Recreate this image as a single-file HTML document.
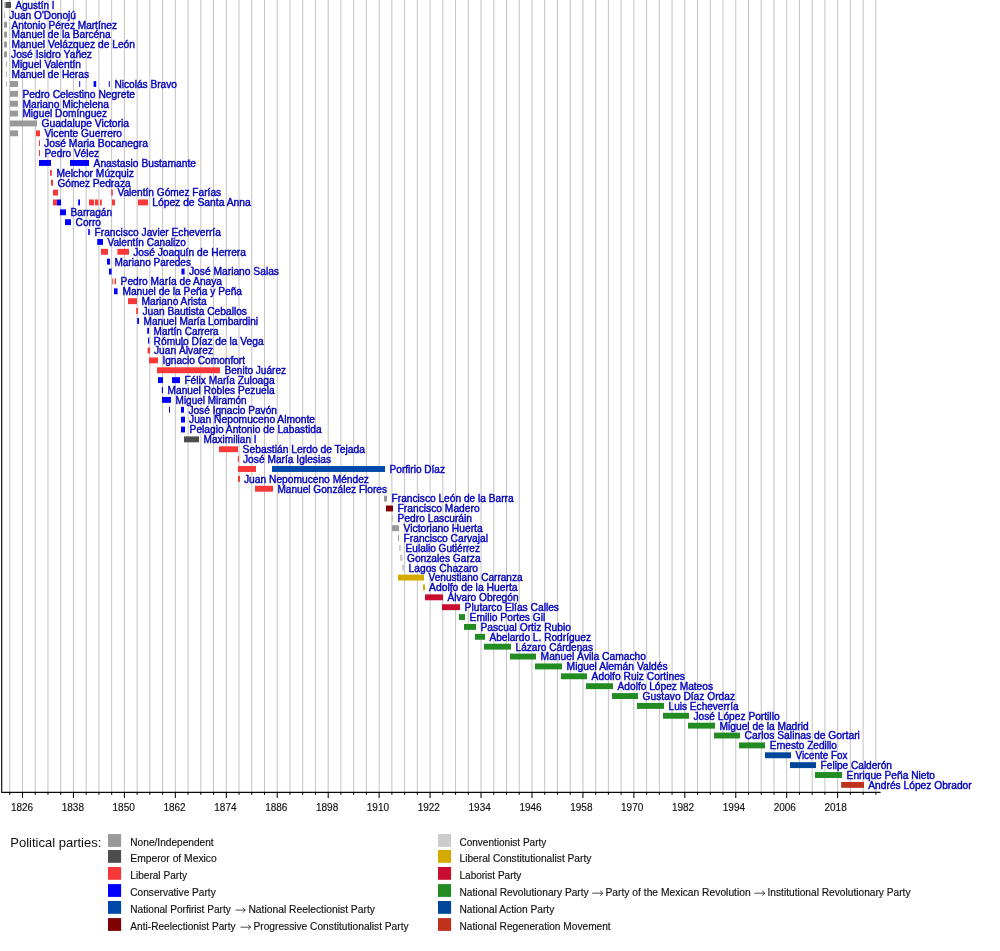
<!DOCTYPE html>
<html><head><meta charset="utf-8"><title>Timeline</title>
<style>
html,body{margin:0;padding:0;background:#fff;}
body{width:1000px;height:951px;overflow:hidden;}
svg{display:block;font-family:"Liberation Sans",sans-serif;}
.n{font-size:10.15px;fill:#0600bc;stroke:#0600bc;stroke-width:0.4px;}
.ax{font-size:10px;fill:#111;text-anchor:middle;stroke:#111;stroke-width:0.15px;}
.lg{font-size:10.3px;fill:#111;stroke:#111;stroke-width:0.15px;}
.lt{font-size:13px;fill:#111;}
</style></head><body>
<svg width="1000" height="951" viewBox="0 0 1000 951">
<rect width="1000" height="951" fill="#fff"/>
<defs><filter id="bl" x="0" y="0" width="1000" height="951" filterUnits="userSpaceOnUse"><feGaussianBlur stdDeviation="0.4"/></filter></defs>
<g filter="url(#bl)">

<path d="M9.76 0V792.3M22.50 0V792.3M35.23 0V792.3M47.97 0V792.3M60.71 0V792.3M73.45 0V792.3M86.18 0V792.3M98.92 0V792.3M111.66 0V792.3M124.39 0V792.3M137.13 0V792.3M149.87 0V792.3M162.60 0V792.3M175.34 0V792.3M188.08 0V792.3M200.81 0V792.3M213.55 0V792.3M226.29 0V792.3M239.03 0V792.3M251.76 0V792.3M264.50 0V792.3M277.24 0V792.3M289.97 0V792.3M302.71 0V792.3M315.45 0V792.3M328.19 0V792.3M340.92 0V792.3M353.66 0V792.3M366.40 0V792.3M379.13 0V792.3M391.87 0V792.3M404.61 0V792.3M417.34 0V792.3M430.08 0V792.3M442.82 0V792.3M455.56 0V792.3M468.29 0V792.3M481.03 0V792.3M493.77 0V792.3M506.50 0V792.3M519.24 0V792.3M531.98 0V792.3M544.71 0V792.3M557.45 0V792.3M570.19 0V792.3M582.93 0V792.3M595.66 0V792.3M608.40 0V792.3M621.14 0V792.3M633.87 0V792.3M646.61 0V792.3M659.35 0V792.3M672.08 0V792.3M684.82 0V792.3M697.56 0V792.3M710.29 0V792.3M723.03 0V792.3M735.77 0V792.3M748.51 0V792.3M761.24 0V792.3M773.98 0V792.3M786.72 0V792.3M799.45 0V792.3M812.19 0V792.3M824.93 0V792.3M837.66 0V792.3M850.40 0V792.3M863.14 0V792.3M875.88 0V792.3" stroke="#bcbcbc" stroke-width="0.9" fill="none"/>
<rect x="4.00" y="2.05" width="1.60" height="5.90" fill="#bdbdbd"/>
<rect x="5.60" y="2.05" width="5.40" height="5.90" fill="#4d4d4d"/>
<rect x="4.00" y="11.92" width="1.00" height="5.90" fill="#bdbdbd"/>
<rect x="4.00" y="21.79" width="3.00" height="5.90" fill="#999999"/>
<rect x="4.00" y="31.67" width="3.00" height="5.90" fill="#999999"/>
<rect x="4.00" y="41.54" width="3.00" height="5.90" fill="#999999"/>
<rect x="4.00" y="51.41" width="3.00" height="5.90" fill="#999999"/>
<rect x="6.00" y="61.28" width="1.00" height="5.90" fill="#bdbdbd"/>
<rect x="6.00" y="71.15" width="1.00" height="5.90" fill="#bdbdbd"/>
<rect x="6.00" y="81.03" width="1.00" height="5.90" fill="#bdbdbd"/>
<rect x="10.00" y="81.03" width="8.00" height="5.90" fill="#999999"/>
<rect x="79.20" y="81.03" width="1.00" height="5.90" fill="#0000ff"/>
<rect x="93.60" y="81.03" width="2.60" height="5.90" fill="#0000ff"/>
<rect x="108.80" y="81.03" width="1.00" height="5.90" fill="#0000ff"/>
<rect x="10.00" y="90.90" width="8.00" height="5.90" fill="#999999"/>
<rect x="10.00" y="100.77" width="8.00" height="5.90" fill="#999999"/>
<rect x="10.00" y="110.64" width="8.00" height="5.90" fill="#999999"/>
<rect x="10.00" y="120.51" width="27.00" height="5.90" fill="#999999"/>
<rect x="10.00" y="130.39" width="8.00" height="5.90" fill="#999999"/>
<rect x="36.00" y="130.39" width="4.00" height="5.90" fill="#f83838"/>
<rect x="39.00" y="140.26" width="1.00" height="5.90" fill="#f83838"/>
<rect x="39.00" y="150.13" width="1.00" height="5.90" fill="#f83838"/>
<rect x="39.00" y="160.00" width="12.00" height="5.90" fill="#0000ff"/>
<rect x="70.00" y="160.00" width="19.00" height="5.90" fill="#0000ff"/>
<rect x="50.00" y="169.87" width="1.80" height="5.90" fill="#f83838"/>
<rect x="51.00" y="179.75" width="2.00" height="5.90" fill="#f83838"/>
<rect x="53.00" y="189.62" width="5.00" height="5.90" fill="#f83838"/>
<rect x="111.20" y="189.62" width="1.60" height="5.90" fill="#f83838"/>
<rect x="53.00" y="199.49" width="4.00" height="5.90" fill="#f83838"/>
<rect x="57.00" y="199.49" width="4.00" height="5.90" fill="#0000ff"/>
<rect x="78.20" y="199.49" width="1.80" height="5.90" fill="#0000ff"/>
<rect x="89.00" y="199.49" width="5.00" height="5.90" fill="#f83838"/>
<rect x="95.00" y="199.49" width="3.40" height="5.90" fill="#f83838"/>
<rect x="100.00" y="199.49" width="1.80" height="5.90" fill="#f83838"/>
<rect x="112.00" y="199.49" width="3.00" height="5.90" fill="#f83838"/>
<rect x="138.00" y="199.49" width="10.00" height="5.90" fill="#f83838"/>
<rect x="60.00" y="209.36" width="6.00" height="5.90" fill="#0000ff"/>
<rect x="65.00" y="219.23" width="6.00" height="5.90" fill="#0000ff"/>
<rect x="88.20" y="229.11" width="1.60" height="5.90" fill="#0000ff"/>
<rect x="97.20" y="238.98" width="5.80" height="5.90" fill="#0000ff"/>
<rect x="101.00" y="248.85" width="7.00" height="5.90" fill="#f83838"/>
<rect x="117.40" y="248.85" width="11.60" height="5.90" fill="#f83838"/>
<rect x="107.00" y="258.72" width="3.00" height="5.90" fill="#0000ff"/>
<rect x="109.00" y="268.59" width="2.60" height="5.90" fill="#0000ff"/>
<rect x="181.40" y="268.59" width="3.20" height="5.90" fill="#0000ff"/>
<rect x="112.00" y="278.47" width="1.40" height="5.90" fill="#f87070"/>
<rect x="114.60" y="278.47" width="1.40" height="5.90" fill="#f83838"/>
<rect x="114.00" y="288.34" width="3.60" height="5.90" fill="#0000ff"/>
<rect x="128.00" y="298.21" width="9.00" height="5.90" fill="#f83838"/>
<rect x="136.20" y="308.08" width="1.80" height="5.90" fill="#f83838"/>
<rect x="137.20" y="317.95" width="1.80" height="5.90" fill="#0000ff"/>
<rect x="147.20" y="327.83" width="1.80" height="5.90" fill="#0000ff"/>
<rect x="148.00" y="337.70" width="1.20" height="5.90" fill="#0000ff"/>
<rect x="147.60" y="347.57" width="2.40" height="5.90" fill="#f83838"/>
<rect x="149.00" y="357.44" width="9.00" height="5.90" fill="#f83838"/>
<rect x="157.00" y="367.31" width="63.00" height="5.90" fill="#f83838"/>
<rect x="158.00" y="377.19" width="5.00" height="5.90" fill="#0000ff"/>
<rect x="172.00" y="377.19" width="8.00" height="5.90" fill="#0000ff"/>
<rect x="161.80" y="387.06" width="1.20" height="5.90" fill="#0000ff"/>
<rect x="162.00" y="396.93" width="9.00" height="5.90" fill="#0000ff"/>
<rect x="169.00" y="406.80" width="1.00" height="5.90" fill="#0000ff"/>
<rect x="181.00" y="406.80" width="3.00" height="5.90" fill="#0000ff"/>
<rect x="181.00" y="416.67" width="4.00" height="5.90" fill="#0000ff"/>
<rect x="181.00" y="426.55" width="4.00" height="5.90" fill="#0000ff"/>
<rect x="184.00" y="436.42" width="15.00" height="5.90" fill="#4d4d4d"/>
<rect x="219.00" y="446.29" width="19.00" height="5.90" fill="#f83838"/>
<rect x="237.80" y="456.16" width="1.20" height="5.90" fill="#f83838"/>
<rect x="238.00" y="466.03" width="18.00" height="5.90" fill="#f83838"/>
<rect x="272.00" y="466.03" width="113.00" height="5.90" fill="#0047ab"/>
<rect x="238.00" y="475.91" width="2.00" height="5.90" fill="#f83838"/>
<rect x="255.00" y="485.78" width="18.00" height="5.90" fill="#f83838"/>
<rect x="384.00" y="495.65" width="3.00" height="5.90" fill="#999999"/>
<rect x="386.00" y="505.52" width="7.00" height="5.90" fill="#800000"/>
<rect x="391.50" y="515.39" width="1.70" height="5.90" fill="#c4c4c4"/>
<rect x="392.00" y="525.27" width="7.00" height="5.90" fill="#999999"/>
<rect x="398.00" y="535.14" width="1.00" height="5.90" fill="#999999"/>
<rect x="399.00" y="545.01" width="1.80" height="5.90" fill="#cccccc"/>
<rect x="400.00" y="554.88" width="2.60" height="5.90" fill="#cccccc"/>
<rect x="402.00" y="564.75" width="2.60" height="5.90" fill="#cccccc"/>
<rect x="398.00" y="574.63" width="26.00" height="5.90" fill="#d4aa00"/>
<rect x="423.00" y="584.50" width="2.00" height="5.90" fill="#d4aa00"/>
<rect x="425.00" y="594.37" width="18.00" height="5.90" fill="#c8102e"/>
<rect x="442.00" y="604.24" width="18.00" height="5.90" fill="#c8102e"/>
<rect x="459.00" y="614.11" width="6.00" height="5.90" fill="#228b22"/>
<rect x="464.00" y="623.99" width="12.00" height="5.90" fill="#228b22"/>
<rect x="475.00" y="633.86" width="10.00" height="5.90" fill="#228b22"/>
<rect x="484.00" y="643.73" width="27.00" height="5.90" fill="#228b22"/>
<rect x="510.00" y="653.60" width="26.00" height="5.90" fill="#228b22"/>
<rect x="535.00" y="663.47" width="27.00" height="5.90" fill="#228b22"/>
<rect x="561.00" y="673.35" width="26.00" height="5.90" fill="#228b22"/>
<rect x="586.00" y="683.22" width="27.00" height="5.90" fill="#228b22"/>
<rect x="612.00" y="693.09" width="26.00" height="5.90" fill="#228b22"/>
<rect x="637.00" y="702.96" width="27.00" height="5.90" fill="#228b22"/>
<rect x="663.00" y="712.83" width="26.00" height="5.90" fill="#228b22"/>
<rect x="688.00" y="722.71" width="27.00" height="5.90" fill="#228b22"/>
<rect x="714.00" y="732.58" width="26.00" height="5.90" fill="#228b22"/>
<rect x="739.00" y="742.45" width="26.00" height="5.90" fill="#228b22"/>
<rect x="765.00" y="752.32" width="26.00" height="5.90" fill="#05469a"/>
<rect x="790.00" y="762.19" width="26.00" height="5.90" fill="#05469a"/>
<rect x="815.00" y="772.07" width="27.00" height="5.90" fill="#228b22"/>
<rect x="841.20" y="781.94" width="22.80" height="5.90" fill="#c0311e"/>
<text class="ax" x="22.00" y="810.6">1826</text>
<text class="ax" x="72.85" y="810.6">1838</text>
<text class="ax" x="123.70" y="810.6">1850</text>
<text class="ax" x="174.55" y="810.6">1862</text>
<text class="ax" x="225.40" y="810.6">1874</text>
<text class="ax" x="276.25" y="810.6">1886</text>
<text class="ax" x="327.10" y="810.6">1898</text>
<text class="ax" x="377.95" y="810.6">1910</text>
<text class="ax" x="428.80" y="810.6">1922</text>
<text class="ax" x="479.65" y="810.6">1934</text>
<text class="ax" x="530.50" y="810.6">1946</text>
<text class="ax" x="581.35" y="810.6">1958</text>
<text class="ax" x="632.20" y="810.6">1970</text>
<text class="ax" x="683.05" y="810.6">1982</text>
<text class="ax" x="733.90" y="810.6">1994</text>
<text class="ax" x="784.75" y="810.6">2006</text>
<text class="ax" x="835.60" y="810.6">2018</text>
<text class="n" x="15.60" y="8.85" textLength="38.8" lengthAdjust="spacingAndGlyphs">Agustín I</text>
<text class="n" x="9.20" y="18.72" textLength="66.8" lengthAdjust="spacingAndGlyphs">Juan O&#39;Donojú</text>
<text class="n" x="11.60" y="28.59" textLength="105.4" lengthAdjust="spacingAndGlyphs">Antonio Pérez Martínez</text>
<text class="n" x="11.60" y="38.47" textLength="99.0" lengthAdjust="spacingAndGlyphs">Manuel de la Barcéna</text>
<text class="n" x="11.60" y="48.34" textLength="123.4" lengthAdjust="spacingAndGlyphs">Manuel Velázquez de León</text>
<text class="n" x="11.00" y="58.21" textLength="81.0" lengthAdjust="spacingAndGlyphs">José Isidro Yañez</text>
<text class="n" x="11.60" y="68.08" textLength="69.4" lengthAdjust="spacingAndGlyphs">Miguel Valentín</text>
<text class="n" x="11.60" y="77.95" textLength="77.4" lengthAdjust="spacingAndGlyphs">Manuel de Heras</text>
<text class="n" x="114.40" y="87.83" textLength="62.6" lengthAdjust="spacingAndGlyphs">Nicolás Bravo</text>
<text class="n" x="22.40" y="97.70" textLength="112.6" lengthAdjust="spacingAndGlyphs">Pedro Celestino Negrete</text>
<text class="n" x="22.40" y="107.57" textLength="86.6" lengthAdjust="spacingAndGlyphs">Mariano Michelena</text>
<text class="n" x="22.40" y="117.44" textLength="84.6" lengthAdjust="spacingAndGlyphs">Miguel Domínguez</text>
<text class="n" x="41.40" y="127.31" textLength="87.6" lengthAdjust="spacingAndGlyphs">Guadalupe Victoria</text>
<text class="n" x="44.40" y="137.19" textLength="77.6" lengthAdjust="spacingAndGlyphs">Vicente Guerrero</text>
<text class="n" x="44.00" y="147.06" textLength="104.0" lengthAdjust="spacingAndGlyphs">José Maria Bocanegra</text>
<text class="n" x="44.40" y="156.93" textLength="54.6" lengthAdjust="spacingAndGlyphs">Pedro Vélez</text>
<text class="n" x="93.60" y="166.80" textLength="102.4" lengthAdjust="spacingAndGlyphs">Anastasio Bustamante</text>
<text class="n" x="56.60" y="176.67" textLength="77.4" lengthAdjust="spacingAndGlyphs">Melchor Múzquiz</text>
<text class="n" x="57.40" y="186.55" textLength="73.2" lengthAdjust="spacingAndGlyphs">Gómez Pedraza</text>
<text class="n" x="117.40" y="196.42" textLength="103.8" lengthAdjust="spacingAndGlyphs">Valentín Gómez Farías</text>
<text class="n" x="152.20" y="206.29" textLength="98.6" lengthAdjust="spacingAndGlyphs">López de Santa Anna</text>
<text class="n" x="70.60" y="216.16" textLength="41.4" lengthAdjust="spacingAndGlyphs">Barragán</text>
<text class="n" x="75.60" y="226.03" textLength="25.4" lengthAdjust="spacingAndGlyphs">Corro</text>
<text class="n" x="94.60" y="235.91" textLength="126.2" lengthAdjust="spacingAndGlyphs">Francisco Javier Echeverría</text>
<text class="n" x="107.50" y="245.78" textLength="78.5" lengthAdjust="spacingAndGlyphs">Valentín Canalizo</text>
<text class="n" x="133.20" y="255.65" textLength="112.8" lengthAdjust="spacingAndGlyphs">José Joaquín de Herrera</text>
<text class="n" x="114.40" y="265.52" textLength="76.6" lengthAdjust="spacingAndGlyphs">Mariano Paredes</text>
<text class="n" x="189.00" y="275.39" textLength="90.0" lengthAdjust="spacingAndGlyphs">José Mariano Salas</text>
<text class="n" x="120.60" y="285.27" textLength="101.4" lengthAdjust="spacingAndGlyphs">Pedro María de Anaya</text>
<text class="n" x="122.40" y="295.14" textLength="119.6" lengthAdjust="spacingAndGlyphs">Manuel de la Peña y Peña</text>
<text class="n" x="141.60" y="305.01" textLength="65.0" lengthAdjust="spacingAndGlyphs">Mariano Arista</text>
<text class="n" x="142.40" y="314.88" textLength="104.6" lengthAdjust="spacingAndGlyphs">Juan Bautista Ceballos</text>
<text class="n" x="143.60" y="324.75" textLength="114.4" lengthAdjust="spacingAndGlyphs">Manuel María Lombardini</text>
<text class="n" x="153.60" y="334.63" textLength="65.0" lengthAdjust="spacingAndGlyphs">Martín Carrera</text>
<text class="n" x="153.60" y="344.50" textLength="110.0" lengthAdjust="spacingAndGlyphs">Rómulo Díaz de la Vega</text>
<text class="n" x="154.00" y="354.37" textLength="59.0" lengthAdjust="spacingAndGlyphs">Juan Álvarez</text>
<text class="n" x="162.40" y="364.24" textLength="82.6" lengthAdjust="spacingAndGlyphs">Ignacio Comonfort</text>
<text class="n" x="224.60" y="374.11" textLength="61.4" lengthAdjust="spacingAndGlyphs">Benito Juárez</text>
<text class="n" x="184.40" y="383.99" textLength="90.2" lengthAdjust="spacingAndGlyphs">Félix María Zuloaga</text>
<text class="n" x="167.60" y="393.86" textLength="107.0" lengthAdjust="spacingAndGlyphs">Manuel Robles Pezuela</text>
<text class="n" x="175.60" y="403.73" textLength="71.0" lengthAdjust="spacingAndGlyphs">Miguel Miramón</text>
<text class="n" x="188.40" y="413.60" textLength="88.6" lengthAdjust="spacingAndGlyphs">José Ignacio Pavón</text>
<text class="n" x="189.00" y="423.47" textLength="126.0" lengthAdjust="spacingAndGlyphs">Juan Nepomuceno Almonte</text>
<text class="n" x="189.60" y="433.35" textLength="132.0" lengthAdjust="spacingAndGlyphs">Pelagio Antonio de Labastida</text>
<text class="n" x="203.60" y="443.22" textLength="53.0" lengthAdjust="spacingAndGlyphs">Maximilian I</text>
<text class="n" x="242.60" y="453.09" textLength="122.4" lengthAdjust="spacingAndGlyphs">Sebastián Lerdo de Tejada</text>
<text class="n" x="243.00" y="462.96" textLength="88.0" lengthAdjust="spacingAndGlyphs">José María Iglesias</text>
<text class="n" x="389.60" y="472.83" textLength="55.4" lengthAdjust="spacingAndGlyphs">Porfirio Díaz</text>
<text class="n" x="244.00" y="482.71" textLength="125.0" lengthAdjust="spacingAndGlyphs">Juan Nepomuceno Méndez</text>
<text class="n" x="277.40" y="492.58" textLength="109.6" lengthAdjust="spacingAndGlyphs">Manuel González Flores</text>
<text class="n" x="391.60" y="502.45" textLength="122.0" lengthAdjust="spacingAndGlyphs">Francisco León de la Barra</text>
<text class="n" x="397.60" y="512.32" textLength="82.0" lengthAdjust="spacingAndGlyphs">Francisco Madero</text>
<text class="n" x="397.60" y="522.19" textLength="74.4" lengthAdjust="spacingAndGlyphs">Pedro Lascuráin</text>
<text class="n" x="403.60" y="532.07" textLength="79.0" lengthAdjust="spacingAndGlyphs">Victoriano Huerta</text>
<text class="n" x="403.60" y="541.94" textLength="84.4" lengthAdjust="spacingAndGlyphs">Francisco Carvajal</text>
<text class="n" x="405.60" y="551.81" textLength="74.4" lengthAdjust="spacingAndGlyphs">Eulalio Gutiérrez</text>
<text class="n" x="407.00" y="561.68" textLength="73.6" lengthAdjust="spacingAndGlyphs">Gonzales Garza</text>
<text class="n" x="408.60" y="571.55" textLength="69.4" lengthAdjust="spacingAndGlyphs">Lagos Chazaro</text>
<text class="n" x="428.60" y="581.43" textLength="94.0" lengthAdjust="spacingAndGlyphs">Venustiano Carranza</text>
<text class="n" x="429.00" y="591.30" textLength="88.6" lengthAdjust="spacingAndGlyphs">Adolfo de la Huerta</text>
<text class="n" x="447.40" y="601.17" textLength="71.2" lengthAdjust="spacingAndGlyphs">Álvaro Obregón</text>
<text class="n" x="464.60" y="611.04" textLength="94.4" lengthAdjust="spacingAndGlyphs">Plutarco Elías Calles</text>
<text class="n" x="469.60" y="620.91" textLength="75.8" lengthAdjust="spacingAndGlyphs">Emilio Portes Gil</text>
<text class="n" x="480.40" y="630.79" textLength="90.6" lengthAdjust="spacingAndGlyphs">Pascual Ortiz Rubio</text>
<text class="n" x="489.40" y="640.66" textLength="101.6" lengthAdjust="spacingAndGlyphs">Abelardo L. Rodríguez</text>
<text class="n" x="515.60" y="650.53" textLength="77.4" lengthAdjust="spacingAndGlyphs">Lázaro Cárdenas</text>
<text class="n" x="540.60" y="660.40" textLength="105.4" lengthAdjust="spacingAndGlyphs">Manuel Ávila Camacho</text>
<text class="n" x="566.60" y="670.27" textLength="101.0" lengthAdjust="spacingAndGlyphs">Miguel Alemán Valdés</text>
<text class="n" x="591.60" y="680.15" textLength="93.4" lengthAdjust="spacingAndGlyphs">Adolfo Ruiz Cortines</text>
<text class="n" x="617.60" y="690.02" textLength="95.4" lengthAdjust="spacingAndGlyphs">Adolfo López Mateos</text>
<text class="n" x="642.60" y="699.89" textLength="92.4" lengthAdjust="spacingAndGlyphs">Gustavo Díaz Ordaz</text>
<text class="n" x="668.60" y="709.76" textLength="70.0" lengthAdjust="spacingAndGlyphs">Luis Echeverría</text>
<text class="n" x="693.40" y="719.63" textLength="86.2" lengthAdjust="spacingAndGlyphs">José López Portillo</text>
<text class="n" x="719.60" y="729.51" textLength="89.0" lengthAdjust="spacingAndGlyphs">Miguel de la Madrid</text>
<text class="n" x="744.50" y="739.38" textLength="115.4" lengthAdjust="spacingAndGlyphs">Carlos Salinas de Gortari</text>
<text class="n" x="769.70" y="749.25" textLength="67.2" lengthAdjust="spacingAndGlyphs">Ernesto Zedillo</text>
<text class="n" x="795.50" y="759.12" textLength="52.0" lengthAdjust="spacingAndGlyphs">Vicente Fox</text>
<text class="n" x="820.60" y="768.99" textLength="71.4" lengthAdjust="spacingAndGlyphs">Felipe Calderón</text>
<text class="n" x="846.60" y="778.87" textLength="88.4" lengthAdjust="spacingAndGlyphs">Enrique Peña Nieto</text>
<text class="n" x="868.30" y="788.74" textLength="103.4" lengthAdjust="spacingAndGlyphs">Andrés López Obrador</text>
<text class="lt" x="10.3" y="847">Political parties:</text>
<rect x="108.00" y="834.10" width="13.1" height="12.8" fill="#999999"/>
<text class="lg" x="130.30" y="845.85" textLength="83.4" lengthAdjust="spacingAndGlyphs">None/Independent</text>
<rect x="108.00" y="850.00" width="13.1" height="12.8" fill="#4d4d4d"/>
<text class="lg" x="130.30" y="861.75" textLength="86.4" lengthAdjust="spacingAndGlyphs">Emperor of Mexico</text>
<rect x="108.00" y="867.00" width="13.1" height="12.8" fill="#f83838"/>
<text class="lg" x="130.30" y="878.75" textLength="56.7" lengthAdjust="spacingAndGlyphs">Liberal Party</text>
<rect x="108.00" y="884.10" width="13.1" height="12.8" fill="#0000ff"/>
<text class="lg" x="130.30" y="895.85" textLength="85.4" lengthAdjust="spacingAndGlyphs">Conservative Party</text>
<rect x="108.00" y="901.00" width="13.1" height="12.8" fill="#0047ab"/>
<text class="lg" x="130.30" y="912.75" textLength="100.5" lengthAdjust="spacingAndGlyphs">National Porfirist Party</text>
<path d="M235.50 910.10H245.30M242.60 907.60L245.30 910.10L242.60 912.60" stroke="#111" stroke-width="0.75" fill="none"/>
<text class="lg" x="248.40" y="912.75" textLength="126.5" lengthAdjust="spacingAndGlyphs">National Reelectionist Party</text>
<rect x="108.00" y="918.10" width="13.1" height="12.8" fill="#800000"/>
<text class="lg" x="130.30" y="929.85" textLength="105.3" lengthAdjust="spacingAndGlyphs">Anti-Reelectionist Party</text>
<path d="M240.50 927.20H250.60M247.90 924.70L250.60 927.20L247.90 929.70" stroke="#111" stroke-width="0.75" fill="none"/>
<text class="lg" x="253.50" y="929.85" textLength="155.1" lengthAdjust="spacingAndGlyphs">Progressive Constitutionalist Party</text>
<rect x="438.00" y="834.10" width="13.1" height="12.8" fill="#cccccc"/>
<text class="lg" x="459.50" y="845.85" textLength="86.8" lengthAdjust="spacingAndGlyphs">Conventionist Party</text>
<rect x="438.00" y="850.00" width="13.1" height="12.8" fill="#d4aa00"/>
<text class="lg" x="459.50" y="861.75" textLength="131.8" lengthAdjust="spacingAndGlyphs">Liberal Constitutionalist Party</text>
<rect x="438.00" y="867.00" width="13.1" height="12.8" fill="#c8102e"/>
<text class="lg" x="459.50" y="878.75" textLength="61.8" lengthAdjust="spacingAndGlyphs">Laborist Party</text>
<rect x="438.00" y="884.10" width="13.1" height="12.8" fill="#228b22"/>
<text class="lg" x="459.50" y="895.85" textLength="129.2" lengthAdjust="spacingAndGlyphs">National Revolutionary Party</text>
<path d="M592.20 893.20H602.80M600.10 890.70L602.80 893.20L600.10 895.70" stroke="#111" stroke-width="0.75" fill="none"/>
<text class="lg" x="605.50" y="895.85" textLength="145.2" lengthAdjust="spacingAndGlyphs">Party of the Mexican Revolution</text>
<path d="M754.40 893.20H764.80M762.10 890.70L764.80 893.20L762.10 895.70" stroke="#111" stroke-width="0.75" fill="none"/>
<text class="lg" x="767.50" y="895.85" textLength="143.0" lengthAdjust="spacingAndGlyphs">Institutional Revolutionary Party</text>
<rect x="438.00" y="901.00" width="13.1" height="12.8" fill="#05469a"/>
<text class="lg" x="459.50" y="912.75" textLength="94.8" lengthAdjust="spacingAndGlyphs">National Action Party</text>
<rect x="438.00" y="918.10" width="13.1" height="12.8" fill="#c0311e"/>
<text class="lg" x="459.50" y="929.85" textLength="151.2" lengthAdjust="spacingAndGlyphs">National Regeneration Movement</text>
</g>
<path d="M1.7 0V792.3H880.6" stroke="#000" stroke-width="1.15" fill="none" opacity="0.97"/>
<path d="M9.76 792.3v2.5M22.50 792.3v5.6M35.23 792.3v2.5M47.97 792.3v2.5M60.71 792.3v2.5M73.45 792.3v5.6M86.18 792.3v2.5M98.92 792.3v2.5M111.66 792.3v2.5M124.39 792.3v5.6M137.13 792.3v2.5M149.87 792.3v2.5M162.60 792.3v2.5M175.34 792.3v5.6M188.08 792.3v2.5M200.81 792.3v2.5M213.55 792.3v2.5M226.29 792.3v5.6M239.03 792.3v2.5M251.76 792.3v2.5M264.50 792.3v2.5M277.24 792.3v5.6M289.97 792.3v2.5M302.71 792.3v2.5M315.45 792.3v2.5M328.19 792.3v5.6M340.92 792.3v2.5M353.66 792.3v2.5M366.40 792.3v2.5M379.13 792.3v5.6M391.87 792.3v2.5M404.61 792.3v2.5M417.34 792.3v2.5M430.08 792.3v5.6M442.82 792.3v2.5M455.56 792.3v2.5M468.29 792.3v2.5M481.03 792.3v5.6M493.77 792.3v2.5M506.50 792.3v2.5M519.24 792.3v2.5M531.98 792.3v5.6M544.71 792.3v2.5M557.45 792.3v2.5M570.19 792.3v2.5M582.93 792.3v5.6M595.66 792.3v2.5M608.40 792.3v2.5M621.14 792.3v2.5M633.87 792.3v5.6M646.61 792.3v2.5M659.35 792.3v2.5M672.08 792.3v2.5M684.82 792.3v5.6M697.56 792.3v2.5M710.29 792.3v2.5M723.03 792.3v2.5M735.77 792.3v5.6M748.51 792.3v2.5M761.24 792.3v2.5M773.98 792.3v2.5M786.72 792.3v5.6M799.45 792.3v2.5M812.19 792.3v2.5M824.93 792.3v2.5M837.66 792.3v5.6M850.40 792.3v2.5M863.14 792.3v2.5M875.88 792.3v2.5" stroke="#000" stroke-width="1.05" fill="none"/>
</svg></body></html>
